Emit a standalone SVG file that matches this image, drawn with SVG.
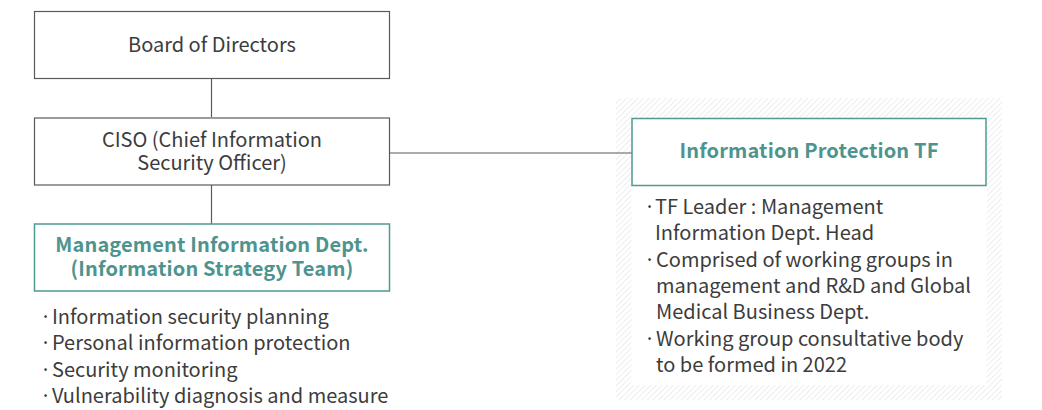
<svg xmlns="http://www.w3.org/2000/svg" width="1042" height="410" viewBox="0 0 1042 410">
<style>
.box{fill:#fff;stroke:#5a5a5a;stroke-width:1.2}
.tbox{fill:#fff;stroke:#4e9a93;stroke-width:1.5}
.t{font-family:"Noto Sans CJK KR","Noto Sans",sans-serif;font-size:20px;fill:#3c3c3c}
.h{font-family:"Noto Sans CJK KR","Noto Sans",sans-serif;font-size:20px;font-weight:700;fill:#4e948e;letter-spacing:0.15px}
.c{stroke:#5a5a5a;stroke-width:1.2;fill:none}
</style>
<defs>
<pattern id="hatch" width="4" height="4" patternUnits="userSpaceOnUse" patternTransform="rotate(45)">
<line x1="0" y1="0" x2="0" y2="4" stroke="#dcdcdc" stroke-width="1"/>
</pattern>
</defs>
<g id="tf-frame">
<rect x="616" y="98" width="386" height="302" fill="url(#hatch)"/>
<rect x="631.5" y="118" width="355" height="267" fill="#fff"/>
</g>
<g id="connectors">
<line class="c" x1="211.5" y1="78" x2="211.5" y2="117"/>
<line class="c" x1="211.5" y1="185" x2="211.5" y2="224"/>
<line class="c" x1="389" y1="153" x2="632" y2="153"/>
</g>
<g id="board">
<rect class="box" x="34.5" y="11.5" width="355" height="67"/>
<text class="t" x="212" y="52" text-anchor="middle">Board of Directors</text>
</g>
<g id="ciso">
<rect class="box" x="34.5" y="118" width="355" height="67"/>
<text class="t" x="212" y="146.5" text-anchor="middle">CISO (Chief Information</text>
<text class="t" x="212" y="170" text-anchor="middle">Security Officer)</text>
</g>
<g id="mgmt">
<rect class="tbox" x="34.5" y="224" width="355" height="67"/>
<text class="h" x="212" y="252" text-anchor="middle">Management Information Dept.</text>
<text class="h" x="212" y="276" text-anchor="middle">(Information Strategy Team)</text>
</g>
<g id="mgmt-duties">
<text class="t" x="40" y="324">·<tspan x="52">Information security planning</tspan></text>
<text class="t" x="40" y="350">·<tspan x="52">Personal information protection</tspan></text>
<text class="t" x="40" y="377">·<tspan x="52">Security monitoring</tspan></text>
<text class="t" x="40" y="403">·<tspan x="52">Vulnerability diagnosis and measure</tspan></text>
</g>
<g id="tf">
<rect class="tbox" x="632" y="118.5" width="354" height="67"/>
<text class="h" x="809" y="158" text-anchor="middle">Information Protection TF</text>
</g>
<g id="tf-notes">
<text class="t" x="644" y="214">·<tspan x="655">TF Leader : Management</tspan></text>
<text class="t" x="655" y="240">Information Dept. Head</text>
<text class="t" x="644" y="267">·<tspan x="656">Comprised of working groups in</tspan></text>
<text class="t" x="656" y="293">management and R&amp;D and Global</text>
<text class="t" x="656" y="319">Medical Business Dept.</text>
<text class="t" x="644" y="346">·<tspan x="656">Working group consultative body</tspan></text>
<text class="t" x="656" y="372">to be formed in 2022</text>
</g>
</svg>
